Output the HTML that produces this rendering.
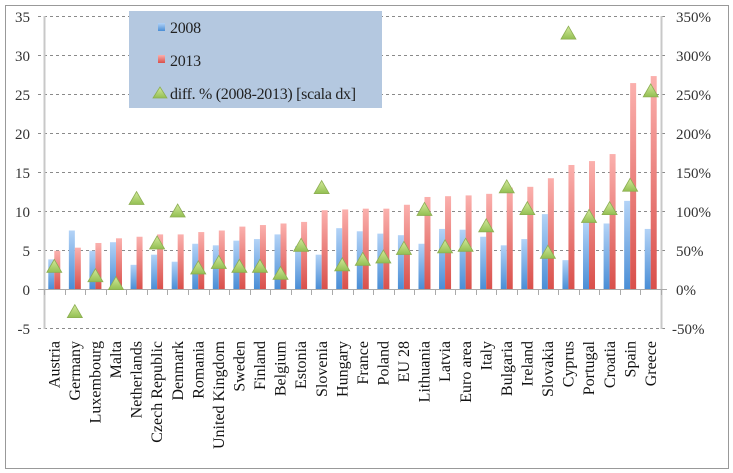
<!DOCTYPE html>
<html><head><meta charset="utf-8"><style>
html,body{margin:0;padding:0;background:#fff;width:733px;height:473px;overflow:hidden}
svg text{font-family:"Liberation Serif",serif}
</style></head><body>
<svg width="733" height="473" viewBox="0 0 733 473" xmlns="http://www.w3.org/2000/svg">
<defs>
<linearGradient id="gb" x1="0" y1="0" x2="0" y2="1"><stop offset="0" stop-color="#b3d3f7"/><stop offset="1" stop-color="#4a8ed6"/></linearGradient>
<linearGradient id="gr" x1="0" y1="0" x2="0" y2="1"><stop offset="0" stop-color="#fbb0ad"/><stop offset="1" stop-color="#d9504b"/></linearGradient>
<linearGradient id="gt" x1="0" y1="0" x2="0" y2="1"><stop offset="0" stop-color="#d4ea9c"/><stop offset="1" stop-color="#93bf52"/></linearGradient>
</defs>
<rect x="5.5" y="5.5" width="723" height="463" fill="#fff" stroke="#999" stroke-width="1"/>
<g id="grid" stroke="#8a8a8a" stroke-width="1" stroke-dasharray="3,3">
<line x1="38" x2="667" y1="16.5" y2="16.5"/><line x1="38" x2="667" y1="55.5" y2="55.5"/><line x1="38" x2="667" y1="94.5" y2="94.5"/><line x1="38" x2="667" y1="133.5" y2="133.5"/><line x1="38" x2="667" y1="172.5" y2="172.5"/><line x1="38" x2="667" y1="211.5" y2="211.5"/><line x1="38" x2="667" y1="250.5" y2="250.5"/><line x1="38" x2="667" y1="328.5" y2="328.5"/>
</g>
<line x1="44.5" x2="44.5" y1="16" y2="329" stroke="#c8c8c8" stroke-width="2"/>
<line x1="661.5" x2="661.5" y1="16" y2="329" stroke="#c8c8c8" stroke-width="2"/>
<rect x="129" y="11" width="253" height="97" fill="#b4c8e0"/>
<rect x="158" y="23" width="7" height="8" fill="url(#gb)"/>
<text x="170" y="33" font-size="16" fill="#222" letter-spacing="-0.3">2008</text>
<rect x="158" y="55" width="7" height="8" fill="url(#gr)"/>
<text x="170" y="66" font-size="16" fill="#222" letter-spacing="-0.3">2013</text>
<polygon points="160,87 153,98 167,98" fill="url(#gt)" stroke="#8cae52" stroke-width="0.8"/>
<text x="170" y="99" font-size="16" fill="#222" letter-spacing="-0.3">diff. % (2008-2013) [scala dx]</text>
<g id="bars"></g>
<line x1="38" x2="667" y1="289.5" y2="289.5" stroke="#aaa" stroke-width="1"/>
<g id="ticks" stroke="#aaa"></g>
<g id="tri"></g>
<g font-size="15" fill="#333" text-anchor="end" style="font-family:'Liberation Sans',sans-serif">
<text x="30" y="22">35</text><text x="30" y="61">30</text><text x="30" y="100">25</text><text x="30" y="139">20</text><text x="30" y="178">15</text><text x="30" y="217">10</text><text x="30" y="256">5</text><text x="30" y="295">0</text><text x="30" y="334">-5</text>
</g>
<g font-size="15" fill="#333" style="font-family:'Liberation Sans',sans-serif">
<text x="676" y="22">350%</text><text x="676" y="61">300%</text><text x="676" y="100">250%</text><text x="676" y="139">200%</text><text x="676" y="178">150%</text><text x="676" y="217">100%</text><text x="676" y="256">50%</text><text x="676" y="295">0%</text><text x="672" y="334">-50%</text>
</g>
<g font-size="16" fill="#111" text-anchor="end">
<text transform="translate(59.5,341) rotate(-90)">Austria</text>
<text transform="translate(80,341) rotate(-90)">Germany</text>
<text transform="translate(100.5,341) rotate(-90)">Luxembourg</text>
<text transform="translate(121,341) rotate(-90)">Malta</text>
<text transform="translate(141.5,341) rotate(-90)">Netherlands</text>
<text transform="translate(162,341) rotate(-90)">Czech Republic</text>
<text transform="translate(183,341) rotate(-90)">Denmark</text>
<text transform="translate(203.5,341) rotate(-90)">Romania</text>
<text transform="translate(224,341) rotate(-90)">United Kingdom</text>
<text transform="translate(244.5,341) rotate(-90)">Sweden</text>
<text transform="translate(265,341) rotate(-90)">Finland</text>
<text transform="translate(285.5,341) rotate(-90)">Belgium</text>
<text transform="translate(306,341) rotate(-90)">Estonia</text>
<text transform="translate(327,341) rotate(-90)">Slovenia</text>
<text transform="translate(347.5,341) rotate(-90)">Hungary</text>
<text transform="translate(368,341) rotate(-90)">France</text>
<text transform="translate(388.5,341) rotate(-90)">Poland</text>
<text transform="translate(409,341) rotate(-90)">EU 28</text>
<text transform="translate(429.5,341) rotate(-90)">Lithuania</text>
<text transform="translate(450,341) rotate(-90)">Latvia</text>
<text transform="translate(471,341) rotate(-90)">Euro area</text>
<text transform="translate(491.5,341) rotate(-90)">Italy</text>
<text transform="translate(512,341) rotate(-90)">Bulgaria</text>
<text transform="translate(532.5,341) rotate(-90)">Ireland</text>
<text transform="translate(553,341) rotate(-90)">Slovakia</text>
<text transform="translate(573.5,341) rotate(-90)">Cyprus</text>
<text transform="translate(594,341) rotate(-90)">Portugal</text>
<text transform="translate(615,341) rotate(-90)">Croatia</text>
<text transform="translate(635.5,341) rotate(-90)">Spain</text>
<text transform="translate(656,341) rotate(-90)">Greece</text>
</g>
</svg>
<script>
var d=[[3.8,4.9,29],[7.5,5.3,-29],[4.9,5.9,17],[6.0,6.5,7],[3.1,6.7,116],[4.4,7.0,59],[3.5,7.0,100],[5.8,7.3,27],[5.6,7.5,34],[6.2,8.0,29],[6.4,8.2,29],[7.0,8.4,20],[5.5,8.6,56],[4.4,10.1,130],[7.8,10.2,31],[7.4,10.3,38],[7.1,10.3,41],[6.9,10.8,52],[5.8,11.8,102],[7.7,11.9,54],[7.6,12.0,56],[6.7,12.2,81],[5.6,13.0,131],[6.4,13.1,103],[9.6,14.2,47],[3.7,15.9,328],[8.5,16.4,93],[8.4,17.3,103],[11.3,26.4,133],[7.7,27.3,254]];
var ns="http://www.w3.org/2000/svg",b=document.getElementById('bars'),t=document.getElementById('tri'),tk=document.getElementById('ticks');
function el(n,a,p){var e=document.createElementNS(ns,n);for(var k in a)e.setAttribute(k,a[k]);p.appendChild(e);}
var w=617/30;
for(var i=0;i<=30;i++){var x=Math.round(44+w*i)+0.5;el('line',{x1:x,x2:x,y1:289,y2:295},tk);}
d.forEach(function(r,i){var c=44+w*(i+0.5);
var yb=289-r[0]*7.8,yr=289-r[1]*7.8;
el('rect',{x:c-6,y:yb,width:6,height:289-yb,fill:'url(#gb)'},b);
el('rect',{x:c,y:yr,width:6,height:289-yr,fill:'url(#gr)'},b);
var ty=289-r[2]*0.78;
el('polygon',{points:(c)+','+(ty-7)+' '+(c-7.5)+','+(ty+6)+' '+(c+7.5)+','+(ty+6),fill:'url(#gt)',stroke:'#8cae52','stroke-width':0.8},t);
});
</script>
</body></html>
